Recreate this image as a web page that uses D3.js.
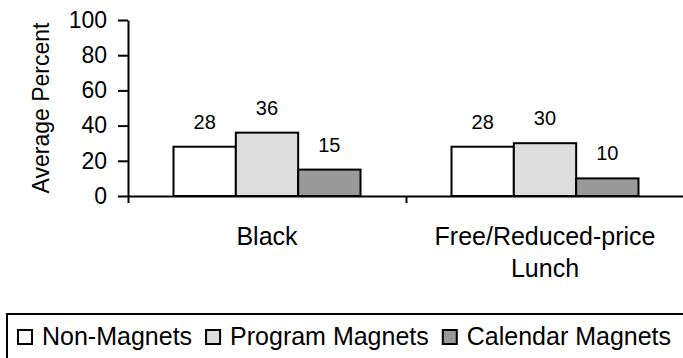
<!DOCTYPE html>
<html>
<head>
<meta charset="utf-8">
<script src="https://cdn.jsdelivr.net/npm/d3@7"></script>
<style>
  body { margin: 0; background: #fff; }
  svg { display: block; font-family: "Liberation Sans", Arial, sans-serif; }
  .axis path, .axis line { stroke: #000; stroke-width: 2; }
</style>
</head>
<body>
<svg width="683" height="358"></svg>
<script>
// chart data
var categories = ["Black", "Free/Reduced-price Lunch"];
var categoryLines = [["Black"], ["Free/Reduced-price", "Lunch"]];
var series = ["Non-Magnets", "Program Magnets", "Calendar Magnets"];
var nonMagnets = [28, 28];
var programMagnets = [36, 30];
var calendarMagnets = [15, 10];
var yTicks = [0, 20, 40, 60, 80, 100];

var seriesColors = ["#ffffff", "#dddddd", "#999999"];
var seriesValues = [nonMagnets, programMagnets, calendarMagnets];

var svg = d3.select('svg');

var plot = {l: 128, r: 684, t: 20, b: 196};

var yScale = d3.scaleLinear()
    .domain([0, 100])
    .range([plot.b, plot.t]);

var xScale = d3.scaleBand()
    .domain(categories)
    .range([plot.l, plot.r]);

var xInner = d3.scaleBand()
    .domain(series)
    .range([0, xScale.bandwidth()])
    .paddingOuter(0.73);

// y axis
svg.append("g")
    .attr("class", "axis")
    .attr("transform", "translate(" + plot.l + ",0)")
    .call(d3.axisLeft(yScale).tickValues(yTicks).tickSize(10).tickSizeOuter(0).tickPadding(11))
    .call(g => g.selectAll("text").attr("font-size", 23).attr("font-family", "Liberation Sans, Arial, sans-serif").attr("fill", "#000"));

// x axis: ticks on the category boundaries
var boundaryScale = d3.scaleLinear()
    .domain([0, categories.length])
    .range([plot.l, plot.r]);

svg.append("g")
    .attr("class", "axis")
    .attr("transform", "translate(0," + plot.b + ")")
    .call(d3.axisBottom(boundaryScale).ticks(categories.length).tickSize(7).tickSizeOuter(0).tickFormat(""));

svg.append("text")
    .attr("transform", "translate(49," + 108 + ") rotate(-90)")
    .attr("text-anchor", "middle")
    .attr("font-size", 23)
    .text("Average Percent");

// bars
var rows = [];
categories.forEach(function(c, i) {
    series.forEach(function(s, j) {
        rows.push({cat: c, series: s, value: seriesValues[j][i], color: seriesColors[j]});
    });
});

var barG = svg.selectAll(".bar")
    .data(rows)
    .enter()
    .append("g")
    .attr("class", "bar")
    .attr("transform", d => "translate(" + (xScale(d.cat) + xInner(d.series)) + ",0)");

barG.append("rect")
    .attr("y", d => yScale(d.value))
    .attr("width", xInner.bandwidth())
    .attr("height", d => plot.b - yScale(d.value))
    .attr("fill", d => d.color)
    .attr("stroke", "#000")
    .attr("stroke-width", 2);

barG.append("text")
    .attr("x", xInner.bandwidth() / 2)
    .attr("y", d => yScale(d.value) - 18)
    .attr("text-anchor", "middle")
    .attr("font-size", 20)
    .text(d => d.value);

// category labels
var catText = svg.selectAll(".cat")
    .data(categories)
    .enter()
    .append("text")
    .attr("class", "cat")
    .attr("text-anchor", "middle")
    .attr("font-size", 25)
    .attr("y", 245);

catText.selectAll("tspan")
    .data((d, i) => categoryLines[i].map(t => ({cat: d, t: t})))
    .enter()
    .append("tspan")
    .attr("x", d => xScale(d.cat) + xScale.bandwidth() / 2)
    .attr("dy", (d, i) => i === 0 ? 0 : 31.5)
    .text(d => d.t);

// legend
svg.append("rect")
    .attr("x", 7)
    .attr("y", 314)
    .attr("width", 700)
    .attr("height", 80)
    .attr("fill", "none")
    .attr("stroke", "#000")
    .attr("stroke-width", 2);

var lx = 18;
series.forEach(function(s, i) {
    svg.append("rect")
        .attr("x", lx)
        .attr("y", 330)
        .attr("width", 14)
        .attr("height", 14)
        .attr("fill", seriesColors[i])
        .attr("stroke", "#000")
        .attr("stroke-width", 2);
    var t = svg.append("text")
        .attr("x", lx + 24)
        .attr("y", 345)
        .attr("font-size", 25)
        .text(s);
    lx = lx + 24 + t.node().getComputedTextLength() + 14;
});
</script>
</body>
</html>
